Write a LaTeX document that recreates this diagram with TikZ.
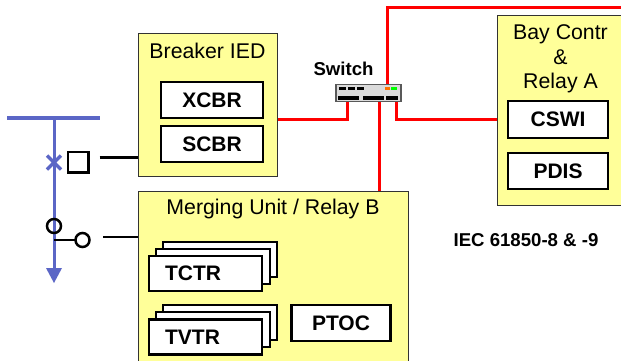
\documentclass[tikz,border=0pt]{standalone}
\usepackage{fontspec}
\setmainfont{Liberation Sans}
\definecolor{ybox}{HTML}{FFFF99}
\definecolor{busblue}{HTML}{5B66C6}
\definecolor{netred}{HTML}{FF0000}
\tikzset{
  panel/.style={draw=black!80,line width=1pt,fill=ybox,anchor=north west,minimum width=0pt,inner sep=0pt},
  lnodefont/.style={font=\fontsize{21}{21}\selectfont\bfseries},
  lnode/.style={draw=black,line width=2.6pt,fill=white,inner sep=0pt,lnodefont},
  net/.style={draw=netred,line width=3pt},
  bus/.style={draw=busblue,line width=3pt},
  wire/.style={draw=black,line width=2.5pt},
  ttl/.style={font=\fontsize{21.3}{24.5}\selectfont,align=center,inner sep=0pt},
  bold18/.style={font=\fontsize{18.6}{18.6}\selectfont\bfseries,inner sep=0pt},
}
\newcommand{\boxat}[6][]{\node[lnode,#1,minimum width=#4pt,minimum height=#5pt] (#2) at (#3) {#6};}
\begin{document}
\begin{tikzpicture}[x=1pt,y=-1pt]
\useasboundingbox (0,0) rectangle (621,360);
% panels
\node[panel,minimum width=139pt,minimum height=143pt] (breaker) at (138,33) {};
\node[panel,minimum width=270pt,minimum height=175pt] (merge) at (138,190.5) {};
\node[panel,minimum width=130pt,minimum height=190pt] (bay) at (496.5,15) {};
\node[ttl] (breakerT) at (207.5,51) {Breaker IED};
\node[ttl] (mergeT) at (273,208.5) {Merging Unit / Relay B};
\node[ttl] (bayT) at (560.5,59) {Bay Contr\\\&\\Relay A};
% logical nodes
\boxat{xcbr}{212,100}{102}{36}{XCBR}
\boxat{scbr}{212,144}{102}{36}{SCBR}
\boxat{cswi}{558,119.5}{100}{37}{CSWI}
\boxat{pdis}{558,171}{100}{36}{PDIS}
\boxat{tc3}{220,259.5}{114}{35}{}
\boxat{tc2}{213,266.5}{114}{35}{}
\boxat{tc1}{205.5,273.5}{113}{35}{}
\node[lnodefont,inner sep=0pt] (tctr) at (193,273.5) {TCTR};
\boxat{tv3}{220,322.5}{114}{35}{}
\boxat{tv2}{213,329.5}{114}{35}{}
\boxat{tv1}{205.5,337}{113}{35}{}
\node[lnodefont,inner sep=0pt] (tvtr) at (192.5,337) {TVTR};
\boxat{ptoc}{341,323}{99}{36}{PTOC}
% switch
\node[draw=black!65,line width=1.2pt,fill=black!14,minimum width=65pt,minimum height=17.5pt,inner sep=0pt] (sw) at (368.5,93) {};
\node[bold18] (swT) at (343.5,68.5) {Switch};
\foreach \xa/\xb in {339/346,348/355,357/364}{\fill[black] (\xa,87) rectangle (\xb,90);}
\foreach \xa/\xb in {338/359,363/384,386/398}{\fill[black] (\xa,96) rectangle (\xb,99.5);}
\fill[orange!90!red] (385,87) rectangle (390,90);
\fill[green] (391,87) rectangle (397,90);
% network
\coordinate (topEnd) at (621,7.5);
\draw[net] (breaker.south east |- 0,119) -- (347,119) -- (347,101.8);
\draw[net] (379.5,101.8) -- (379.5,190.5);
\draw[net] (396.5,101.8) -- (396.5,119) -- (496.5,119);
\draw[net] (387.5,84.2) -- (387.5,7.5) -- (topEnd);
% bus
\coordinate (busL) at (7,118);
\coordinate (busR) at (100,118);
\coordinate (busT) at (54,118);
\coordinate (busB) at (54,270);
\draw[draw=busblue,line width=4pt] (busL) -- (busR);
\draw[bus] (busT) -- (busB);
\fill[busblue] (46,268) -- (62,268) -- (54,283) -- cycle;
\draw[draw=busblue,line width=3.5pt] (47,155.5) -- (61,169.5) (61,155.5) -- (47,169.5);
% switchgear
\node[draw=black,line width=2.5pt,fill=white,minimum size=20.5pt,inner sep=0pt] (cb) at (78.3,162) {};
\node[draw=black,line width=2.5pt,circle,minimum size=14pt,inner sep=0pt] (ds) at (54,226) {};
\coordinate (dsJ) at (54,240);
\draw[wire] (dsJ) -- (75,240);
\node[draw=black,line width=2.5pt,circle,fill=white,minimum size=14pt,inner sep=0pt] (ct) at (82.5,240) {};
\coordinate (w1) at (99.5,157.5);
\coordinate (w2) at (103,237);
\draw[wire] (w1) -- (138,157.5);
\draw[wire] (w2) -- (138,237);
\node[bold18] (iec) at (526,240) {IEC 61850-8 \& -9};
\end{tikzpicture}
\end{document}
